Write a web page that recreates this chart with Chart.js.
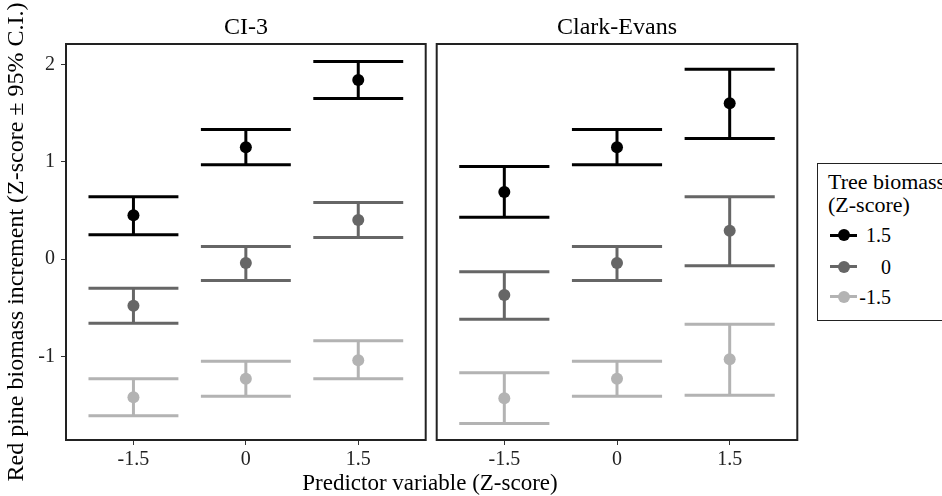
<!DOCTYPE html>
<html>
<head>
<meta charset="utf-8">
<script src="https://cdn.jsdelivr.net/npm/chart.js@4"></script>
<style>
  body { margin: 0; background: #fff; width: 942px; height: 496px; overflow: hidden; position: relative; font-family: 'Liberation Serif', 'DejaVu Serif', serif; }
  canvas { position: absolute; top: 0; }
  .facet { position: absolute; top: 12px; font-size: 24px; line-height: 28px; text-align: center; color: #000; }
  #xTitle { position: absolute; left: 230px; width: 400px; top: 470px; font-size: 23px; line-height: 26px; text-align: center; }
  #legend { position: absolute; left: 817px; top: 163px; width: 150px; height: 158px; border: 1.5px solid #222; box-sizing: border-box; }
  #legend .ttl { position: absolute; left: 10px; top: 7px; font-size: 22px; line-height: 22.6px; }
  .item { position: absolute; left: 12px; height: 20px; width: 61px; }
  .item .ln { position: absolute; left: 0; top: 8.5px; width: 27px; height: 3px; }
  .item .dot { position: absolute; left: 7.5px; top: 4px; width: 12px; height: 12px; border-radius: 50%; }
  .item .lab { position: absolute; right: 0; top: -2px; font-size: 20px; line-height: 24px; }
</style>
</head>
<body>
<canvas id="ci3" width="432" height="496" style="left:0"></canvas>
<canvas id="ce" width="380" height="496" style="left:430px"></canvas>
<div class="facet" style="left:66px;width:360px">CI-3</div>
<div class="facet" style="left:437px;width:360px">Clark-Evans</div>
<div id="xTitle">Predictor variable (Z-score)</div>
<div id="legend">
  <div class="ttl">Tree biomass<br>(Z-score)</div>
</div>
<script>
// predictor levels (x) and tree biomass groups (series)
const predictorLevels = [-1.5, 0, 1.5];
const groupLabels = ['1.5', '0', '-1.5'];
const groupColors = ['#000000', '#666666', '#b3b3b3'];
const yTicks = [-1, 0, 1, 2];

// CI-3 panel: rows = groups (1.5, 0, -1.5), cols = predictor levels
const ci3Mean  = [[0.45, 1.15, 1.84], [-0.48, -0.04, 0.40], [-1.42, -1.23, -1.04]];
const ci3Lower = [[0.25, 0.97, 1.65], [-0.66, -0.22, 0.22], [-1.61, -1.41, -1.23]];
const ci3Upper = [[0.64, 1.33, 2.03], [-0.30, 0.13, 0.58], [-1.23, -1.05, -0.84]];

// Clark-Evans panel
const ceMean  = [[0.69, 1.15, 1.60], [-0.37, -0.04, 0.29], [-1.43, -1.23, -1.03]];
const ceLower = [[0.43, 0.97, 1.24], [-0.62, -0.22, -0.07], [-1.69, -1.41, -1.40]];
const ceUpper = [[0.95, 1.33, 1.95], [-0.13, 0.13, 0.64], [-1.17, -1.05, -0.67]];

const capHalf = 0.6;
const serif = "'Liberation Serif', 'DejaVu Serif', serif";

function buildDatasets(mean, lower, upper) {
    const sets = [];
    groupLabels.forEach((g, s) => {
        const whisk = [], caps = [], pts = [];
        predictorLevels.forEach((x, i) => {
            whisk.push({ x: x, y: lower[s][i] }, { x: x, y: upper[s][i] }, { x: x, y: null });
            caps.push({ x: x - capHalf, y: lower[s][i] }, { x: x + capHalf, y: lower[s][i] }, { x: x, y: null });
            caps.push({ x: x - capHalf, y: upper[s][i] }, { x: x + capHalf, y: upper[s][i] }, { x: x, y: null });
            pts.push({ x: x, y: mean[s][i] });
        });
        const lineStyle = { showLine: true, borderColor: groupColors[s], borderWidth: 3, pointRadius: 0, spanGaps: false, borderCapStyle: 'butt', order: 2 };
        sets.push(Object.assign({ label: g + ' ci', data: whisk }, lineStyle));
        sets.push(Object.assign({ label: g + ' caps', data: caps }, lineStyle));
        sets.push({ label: g, data: pts, backgroundColor: groupColors[s], borderColor: groupColors[s], borderWidth: 0, pointRadius: 6, showLine: false, order: 1 });
    });
    return sets;
}

const panelFrame = {
    id: 'panelFrame',
    afterDatasetsDraw(chart) {
        const a = chart.chartArea, ctx = chart.ctx;
        ctx.save();
        ctx.strokeStyle = '#222';
        ctx.lineWidth = 2;
        ctx.strokeRect(a.left, a.top, a.right - a.left, a.bottom - a.top);
        ctx.restore();
    }
};

function makePanel(id, mean, lower, upper, showY, padding) {
    return new Chart(document.getElementById(id), {
        type: 'scatter',
        data: { datasets: buildDatasets(mean, lower, upper) },
        plugins: [panelFrame],
        options: {
            responsive: false,
            animation: false,
            layout: { padding: padding },
            plugins: { legend: { display: false }, tooltip: { enabled: false } },
            scales: {
                x: {
                    type: 'linear', min: -2.4, max: 2.4,
                    afterBuildTicks: sc => { sc.ticks = predictorLevels.map(v => ({ value: v })); },
                    afterFit: sc => { sc.height = 56; },
                    border: { display: false },
                    grid: { drawOnChartArea: false, tickLength: 5, color: '#333', lineWidth: 1 },
                    ticks: { color: '#222', padding: 3, font: { family: serif, size: 20 }, callback: v => String(v) }
                },
                y: {
                    display: showY,
                    min: -1.86, max: 2.21,
                    afterBuildTicks: sc => { sc.ticks = yTicks.map(v => ({ value: v })); },
                    afterFit: sc => { sc.width = showY ? 66 : 0; },
                    border: { display: false },
                    grid: { drawOnChartArea: false, tickLength: 5, color: '#333', lineWidth: 1 },
                    ticks: { color: '#222', padding: 6, font: { family: serif, size: 20 }, callback: v => String(v) },
                    title: { display: showY, text: 'Red pine biomass increment (Z-score \u00b1 95% C.I.)', color: '#000', font: { family: serif, size: 24 }, padding: { top: 2, bottom: 0 } }
                }
            }
        }
    });
}

makePanel('ci3', ci3Mean, ci3Lower, ci3Upper, true, { left: 0, right: 6.3, top: 44, bottom: 0 });
makePanel('ce', ceMean, ceLower, ceUpper, false, { left: 6.7, right: 12.7, top: 44, bottom: 0 });

// legend entries (vertical centres relative to the legend box)
const legend = document.getElementById('legend');
const itemCentres = [71, 102.7, 132.7];
groupLabels.forEach((g, s) => {
    const it = document.createElement('div');
    it.className = 'item';
    it.style.top = (itemCentres[s] - 10) + 'px';
    it.innerHTML = '<div class="ln" style="background:' + groupColors[s] + '"></div>' +
        '<div class="dot" style="background:' + groupColors[s] + '"></div>' +
        '<div class="lab">' + g + '</div>';
    legend.appendChild(it);
});
</script>
</body>
</html>
